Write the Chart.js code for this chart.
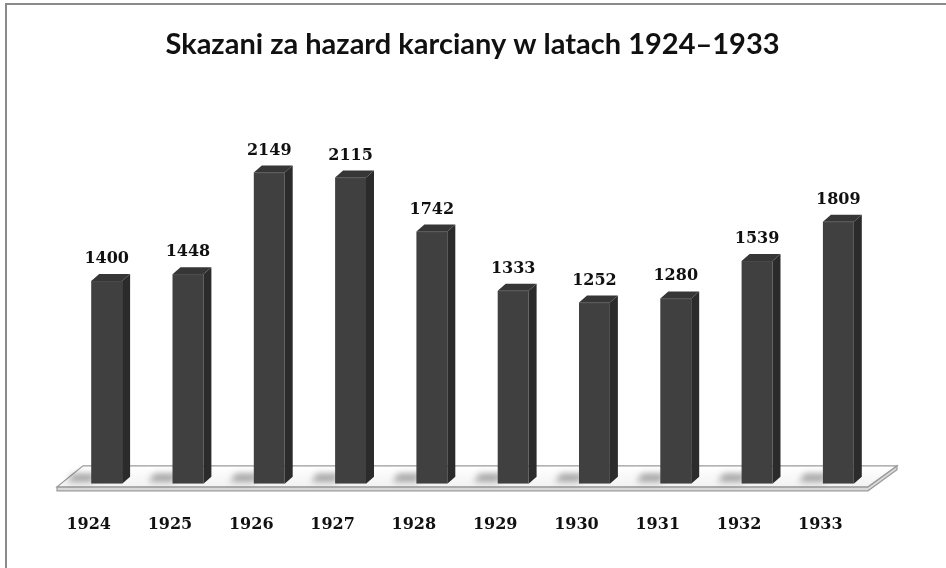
<!DOCTYPE html>
<html>
<head>
<meta charset="utf-8">
<script src="https://cdn.jsdelivr.net/npm/chart.js@4/dist/chart.umd.min.js"></script>
<style>
  html, body { margin: 0; padding: 0; background: #ffffff; }
  #wrap { position: relative; width: 946px; height: 568px; }
</style>
</head>
<body>
<div id="wrap"><canvas id="c" width="946" height="568"></canvas></div>
<script>
const years = ['1924', '1925', '1926', '1927', '1928', '1929', '1930', '1931', '1932', '1933'];
const convicted = [1400, 1448, 2149, 2115, 1742, 1333, 1252, 1280, 1539, 1809];
const titleText = 'Skazani za hazard karciany w latach 1924\u20131933';

const DEPTH_X = 8, DEPTH_Y = 7;

const framePlugin = {
  id: 'frame',
  beforeDraw(chart) {
    const ctx = chart.ctx;
    ctx.save();
    ctx.fillStyle = '#ffffff';
    ctx.fillRect(0, 0, chart.width, chart.height);
    ctx.fillStyle = '#8a8a8a';
    ctx.fillRect(5, 3, 2, chart.height);
    ctx.fillRect(5, 3, chart.width, 2);
    ctx.restore();
  }
};

const floorPlugin = {
  id: 'floor3d',
  beforeDatasetsDraw(chart) {
    const ctx = chart.ctx;
    const a = chart.chartArea;
    const b = a.bottom;
    ctx.save();
    // floor thickness (front strip)
    ctx.beginPath();
    ctx.moveTo(a.left - 9, b + 3);
    ctx.lineTo(a.right - 11, b + 3);
    ctx.lineTo(a.right + 18, b - 18);
    ctx.lineTo(a.right + 18, b - 14);
    ctx.lineTo(a.right - 11, b + 7);
    ctx.lineTo(a.left - 9, b + 7);
    ctx.closePath();
    ctx.fillStyle = '#d9d9d9';
    ctx.fill();
    ctx.strokeStyle = '#9a9a9a';
    ctx.lineWidth = 1.2;
    ctx.stroke();
    // floor top face
    ctx.beginPath();
    ctx.moveTo(a.left - 9, b + 3);
    ctx.lineTo(a.right - 11, b + 3);
    ctx.lineTo(a.right + 18, b - 18);
    ctx.lineTo(a.left + 17, b - 18);
    ctx.closePath();
    const g = ctx.createLinearGradient(0, b - 18, 0, b + 3);
    g.addColorStop(0, '#ffffff');
    g.addColorStop(1, '#f2f2f2');
    ctx.fillStyle = g;
    ctx.fill();
    ctx.strokeStyle = '#9a9a9a';
    ctx.lineWidth = 1.2;
    ctx.stroke();
    // soft shadows on the floor
    const meta = chart.getDatasetMeta(0);
    ctx.filter = 'blur(3px)';
    ctx.fillStyle = 'rgba(0,0,0,0.35)';
    meta.data.forEach(bar => {
      const x0 = bar.x - bar.width / 2;
      ctx.beginPath();
      ctx.moveTo(x0 - 24, b - 2);
      ctx.lineTo(x0, b - 2);
      ctx.lineTo(x0 + 6, b - 10);
      ctx.lineTo(x0 - 18, b - 10);
      ctx.closePath();
      ctx.fill();
    });
    ctx.filter = 'none';
    ctx.restore();
  }
};

const barsPlugin = {
  id: 'bars3d',
  afterDatasetsDraw(chart) {
    const ctx = chart.ctx;
    const meta = chart.getDatasetMeta(0);
    const ds = chart.data.datasets[0];
    ctx.save();
    meta.data.forEach((bar, i) => {
      const x0 = bar.x - bar.width / 2;
      const x1 = bar.x + bar.width / 2;
      const top = bar.y;
      const base = bar.base;
      // side face
      ctx.beginPath();
      ctx.moveTo(x1, top);
      ctx.lineTo(x1 + DEPTH_X, top - DEPTH_Y);
      ctx.lineTo(x1 + DEPTH_X, base - DEPTH_Y);
      ctx.lineTo(x1, base);
      ctx.closePath();
      ctx.fillStyle = '#2b2b2b';
      ctx.fill();
      // top face
      ctx.beginPath();
      ctx.moveTo(x0, top);
      ctx.lineTo(x1, top);
      ctx.lineTo(x1 + DEPTH_X, top - DEPTH_Y);
      ctx.lineTo(x0 + DEPTH_X, top - DEPTH_Y);
      ctx.closePath();
      ctx.fillStyle = '#363636';
      ctx.fill();
      ctx.strokeStyle = '#4a4a4a';
      ctx.lineWidth = 1;
      ctx.beginPath();
      ctx.moveTo(x0 + 1, top + 0.5);
      ctx.lineTo(x1, top + 0.5);
      ctx.stroke();
      // value label
      ctx.fillStyle = '#111111';
      ctx.font = 'bold 16px "DejaVu Serif"';
      ctx.textAlign = 'center';
      ctx.textBaseline = 'alphabetic';
      ctx.fillText(String(ds.data[i]), bar.x, top - DEPTH_Y - 11);
    });
    ctx.restore();
  }
};

new Chart(document.getElementById('c'), {
  type: 'bar',
  data: {
    labels: years,
    datasets: [{
      data: convicted,
      backgroundColor: '#404040',
      borderWidth: 0,
      barPercentage: 0.38,
      categoryPercentage: 1.0
    }]
  },
  options: {
    responsive: false,
    animation: false,
    events: [],
    layout: { padding: { left: 66, right: 67, top: 0, bottom: 3 } },
    plugins: {
      legend: { display: false },
      tooltip: { enabled: false },
      title: {
        display: true,
        text: titleText,
        color: '#111111',
        font: { family: 'Lato', size: 29, weight: 'bold', lineHeight: 1.2 },
        padding: { top: 27, bottom: 60 }
      }
    },
    scales: {
      x: {
        grid: { display: false, drawTicks: false },
        border: { display: false },
        ticks: {
          color: '#111111',
          font: { family: 'DejaVu Serif', size: 16, weight: 'bold', lineHeight: 1.2 },
          padding: 31,
          labelOffset: -18,
          maxRotation: 0,
          autoSkip: false
        }
      },
      y: {
        display: false,
        min: 0,
        max: 2500
      }
    }
  },
  plugins: [framePlugin, floorPlugin, barsPlugin]
});
</script>
</body>
</html>
